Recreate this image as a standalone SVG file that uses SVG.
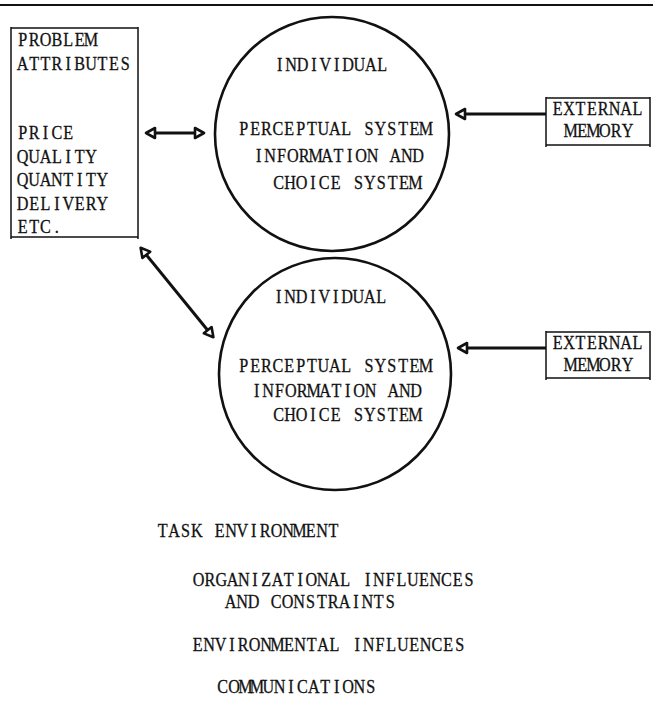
<svg xmlns="http://www.w3.org/2000/svg" width="653" height="702" viewBox="0 0 653 702">
  <style>
    .bg { fill: #ffffff; }
    /* typewriter-style lines: every glyph is centred in a fixed-width cell */
    .t { font-family: "Liberation Serif", "Times New Roman", serif; font-size: 19px; fill: #111; stroke: #111; stroke-width: 0.3px; text-anchor: middle; }
    .rule { stroke: #111; stroke-width: 2; fill: none; }
    .box { stroke: #111; stroke-width: 1.5; fill: none; }
    .circ { stroke: #111; stroke-width: 2.6; fill: none; }
    .conn { stroke: #111; stroke-width: 3; fill: none; }
  </style>
  <defs>
    <marker id="head" markerUnits="userSpaceOnUse" viewBox="0 0 14 14" markerWidth="14" markerHeight="14" refX="2" refY="7" orient="auto-start-reverse" overflow="visible">
      <path d="M2,2 L11,7 L2,12 Z" fill="#fff" stroke="#111" stroke-width="2.6" stroke-linejoin="round"/>
    </marker>
  </defs>

  <rect class="bg" x="0" y="0" width="653" height="702"/>

  <!-- rule across the top of the page -->
  <line class="rule" x1="0" y1="5" x2="653" y2="5"/>

  <!-- problem attributes box -->
  <g id="problem-attributes">
    <path class="box" d="M11,28 L138,28 M11,237 L138,237 M11,27 L11,239 M138,27 L138,239"/>
    <text class="t" transform="translate(17,46) scale(0.85,1)" y="0" x="6.7 20.1 33.5 46.9 60.3 73.7 87.1 100.5 113.9 127.3 140.7 154.1 167.5 180.9 194.3 207.7 221.1 234.5 247.9 261.3 274.7 288.1 301.5 314.9 328.3">PROBLEM</text>
    <text class="t" transform="translate(17,70) scale(0.85,1)" y="0" x="6.7 20.1 33.5 46.9 60.3 73.7 87.1 100.5 113.9 127.3 140.7 154.1 167.5 180.9 194.3 207.7 221.1 234.5 247.9 261.3 274.7 288.1 301.5 314.9 328.3">ATTRIBUTES</text>
    <text class="t" transform="translate(17,139) scale(0.85,1)" y="0" x="6.7 20.1 33.5 46.9 60.3 73.7 87.1 100.5 113.9 127.3 140.7 154.1 167.5 180.9 194.3 207.7 221.1 234.5 247.9 261.3 274.7 288.1 301.5 314.9 328.3">PRICE</text>
    <text class="t" transform="translate(17,163) scale(0.85,1)" y="0" x="6.7 20.1 33.5 46.9 60.3 73.7 87.1 100.5 113.9 127.3 140.7 154.1 167.5 180.9 194.3 207.7 221.1 234.5 247.9 261.3 274.7 288.1 301.5 314.9 328.3">QUALITY</text>
    <text class="t" transform="translate(17,186) scale(0.85,1)" y="0" x="6.7 20.1 33.5 46.9 60.3 73.7 87.1 100.5 113.9 127.3 140.7 154.1 167.5 180.9 194.3 207.7 221.1 234.5 247.9 261.3 274.7 288.1 301.5 314.9 328.3">QUANTITY</text>
    <text class="t" transform="translate(17,210) scale(0.85,1)" y="0" x="6.7 20.1 33.5 46.9 60.3 73.7 87.1 100.5 113.9 127.3 140.7 154.1 167.5 180.9 194.3 207.7 221.1 234.5 247.9 261.3 274.7 288.1 301.5 314.9 328.3">DELIVERY</text>
    <text class="t" transform="translate(17,233) scale(0.85,1)" y="0" x="6.7 20.1 33.5 46.9 60.3 73.7 87.1 100.5 113.9 127.3 140.7 154.1 167.5 180.9 194.3 207.7 221.1 234.5 247.9 261.3 274.7 288.1 301.5 314.9 328.3">ETC.</text>
  </g>

  <!-- first individual -->
  <g id="individual-1">
    <circle class="circ" cx="332" cy="134" r="117"/>
    <text class="t" transform="translate(274,71) scale(0.85,1)" y="0" x="6.7 20.1 33.5 46.9 60.3 73.7 87.1 100.5 113.9 127.3 140.7 154.1 167.5 180.9 194.3 207.7 221.1 234.5 247.9 261.3 274.7 288.1 301.5 314.9 328.3">INDIVIDUAL</text>
    <text class="t" transform="translate(238,135) scale(0.85,1)" y="0" x="6.7 20.1 33.5 46.9 60.3 73.7 87.1 100.5 113.9 127.3 140.7 154.1 167.5 180.9 194.3 207.7 221.1 234.5 247.9 261.3 274.7 288.1 301.5 314.9 328.3">PERCEPTUAL SYSTEM</text>
    <text class="t" transform="translate(253,162) scale(0.85,1)" y="0" x="6.7 20.1 33.5 46.9 60.3 73.7 87.1 100.5 113.9 127.3 140.7 154.1 167.5 180.9 194.3 207.7 221.1 234.5 247.9 261.3 274.7 288.1 301.5 314.9 328.3">INFORMATION AND</text>
    <text class="t" transform="translate(273,189) scale(0.85,1)" y="0" x="6.7 20.1 33.5 46.9 60.3 73.7 87.1 100.5 113.9 127.3 140.7 154.1 167.5 180.9 194.3 207.7 221.1 234.5 247.9 261.3 274.7 288.1 301.5 314.9 328.3">CHOICE SYSTEM</text>
  </g>

  <!-- second individual -->
  <g id="individual-2">
    <circle class="circ" cx="335" cy="374" r="116"/>
    <text class="t" transform="translate(273,303) scale(0.85,1)" y="0" x="6.7 20.1 33.5 46.9 60.3 73.7 87.1 100.5 113.9 127.3 140.7 154.1 167.5 180.9 194.3 207.7 221.1 234.5 247.9 261.3 274.7 288.1 301.5 314.9 328.3">INDIVIDUAL</text>
    <text class="t" transform="translate(238,372) scale(0.85,1)" y="0" x="6.7 20.1 33.5 46.9 60.3 73.7 87.1 100.5 113.9 127.3 140.7 154.1 167.5 180.9 194.3 207.7 221.1 234.5 247.9 261.3 274.7 288.1 301.5 314.9 328.3">PERCEPTUAL SYSTEM</text>
    <text class="t" transform="translate(251,397) scale(0.85,1)" y="0" x="6.7 20.1 33.5 46.9 60.3 73.7 87.1 100.5 113.9 127.3 140.7 154.1 167.5 180.9 194.3 207.7 221.1 234.5 247.9 261.3 274.7 288.1 301.5 314.9 328.3">INFORMATION AND</text>
    <text class="t" transform="translate(273,421) scale(0.85,1)" y="0" x="6.7 20.1 33.5 46.9 60.3 73.7 87.1 100.5 113.9 127.3 140.7 154.1 167.5 180.9 194.3 207.7 221.1 234.5 247.9 261.3 274.7 288.1 301.5 314.9 328.3">CHOICE SYSTEM</text>
  </g>

  <!-- external memory boxes -->
  <g id="external-memory-1">
    <path class="box" d="M546,98 L650,98 M546,145 L650,145 M546,97 L546,147 M650,97 L650,147"/>
    <text class="t" transform="translate(552,115) scale(0.85,1)" y="0" x="6.7 20.1 33.5 46.9 60.3 73.7 87.1 100.5 113.9 127.3 140.7 154.1 167.5 180.9 194.3 207.7 221.1 234.5 247.9 261.3 274.7 288.1 301.5 314.9 328.3">EXTERNAL</text>
    <text class="t" transform="translate(565,137) scale(0.85,1)" y="0" x="6.7 20.1 33.5 46.9 60.3 73.7 87.1 100.5 113.9 127.3 140.7 154.1 167.5 180.9 194.3 207.7 221.1 234.5 247.9 261.3 274.7 288.1 301.5 314.9 328.3">MEMORY</text>
  </g>
  <g id="external-memory-2">
    <path class="box" d="M546,332 L650,332 M546,378 L650,378 M546,331 L546,380 M650,331 L650,380"/>
    <text class="t" transform="translate(552,349) scale(0.85,1)" y="0" x="6.7 20.1 33.5 46.9 60.3 73.7 87.1 100.5 113.9 127.3 140.7 154.1 167.5 180.9 194.3 207.7 221.1 234.5 247.9 261.3 274.7 288.1 301.5 314.9 328.3">EXTERNAL</text>
    <text class="t" transform="translate(565,371) scale(0.85,1)" y="0" x="6.7 20.1 33.5 46.9 60.3 73.7 87.1 100.5 113.9 127.3 140.7 154.1 167.5 180.9 194.3 207.7 221.1 234.5 247.9 261.3 274.7 288.1 301.5 314.9 328.3">MEMORY</text>
  </g>

  <!-- connectors -->
  <g id="connectors">
    <line class="conn" x1="155" y1="133" x2="195" y2="133" marker-start="url(#head)" marker-end="url(#head)"/>
    <line class="conn" x1="146.3" y1="254.8" x2="207.7" y2="330.2" marker-start="url(#head)" marker-end="url(#head)"/>
    <line class="conn" x1="546" y1="114" x2="465" y2="114" marker-end="url(#head)"/>
    <line class="conn" x1="546" y1="348" x2="467" y2="348" marker-end="url(#head)"/>
  </g>

  <!-- task environment legend -->
  <g id="task-environment">
    <text class="t" transform="translate(157,537) scale(0.85,1)" y="0" x="6.7 20.1 33.5 46.9 60.3 73.7 87.1 100.5 113.9 127.3 140.7 154.1 167.5 180.9 194.3 207.7 221.1 234.5 247.9 261.3 274.7 288.1 301.5 314.9 328.3">TASK ENVIRONMENT</text>
    <text class="t" transform="translate(193,586) scale(0.85,1)" y="0" x="6.7 20 33.2 46.5 59.7 73 86.2 99.5 112.7 126 139.2 152.5 165.7 179 192.2 205.5 218.7 232 245.2 258.5 271.7 285 298.2 311.5 324.7">ORGANIZATIONAL INFLUENCES</text>
    <text class="t" transform="translate(225,608) scale(0.85,1)" y="0" x="6.7 20.1 33.5 46.9 60.3 73.7 87.1 100.5 113.9 127.3 140.7 154.1 167.5 180.9 194.3 207.7 221.1 234.5 247.9 261.3 274.7 288.1 301.5 314.9 328.3">AND CONSTRAINTS</text>
    <text class="t" transform="translate(192,651) scale(0.85,1)" y="0" x="6.7 20.1 33.5 46.9 60.3 73.7 87.1 100.5 113.9 127.3 140.7 154.1 167.5 180.9 194.3 207.7 221.1 234.5 247.9 261.3 274.7 288.1 301.5 314.9 328.3">ENVIRONMENTAL INFLUENCES</text>
    <text class="t" transform="translate(217,693) scale(0.85,1)" y="0" x="6.7 20.1 33.5 46.9 60.3 73.7 87.1 100.5 113.9 127.3 140.7 154.1 167.5 180.9 194.3 207.7 221.1 234.5 247.9 261.3 274.7 288.1 301.5 314.9 328.3">COMMUNICATIONS</text>
  </g>
</svg>
